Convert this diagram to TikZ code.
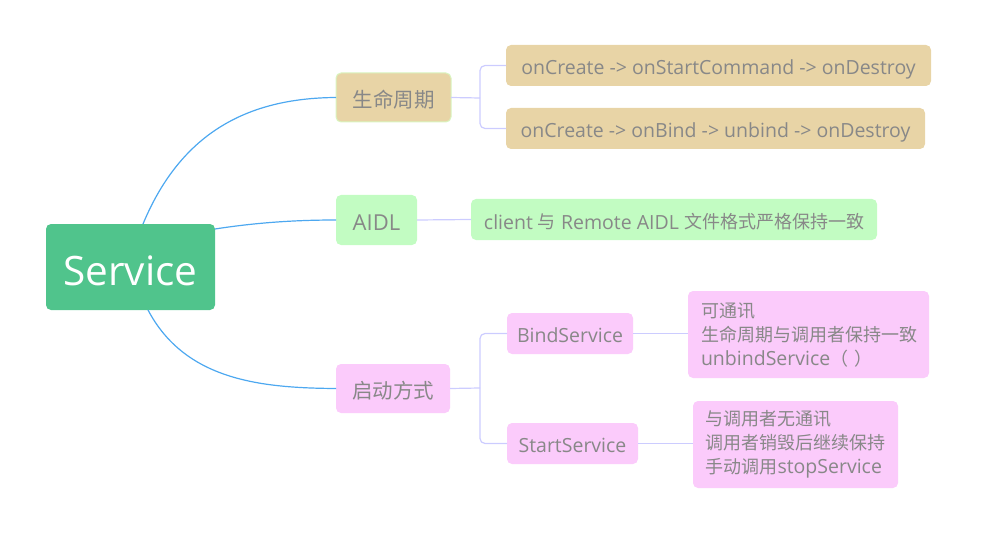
\documentclass[tikz,border=0pt]{standalone}
\usepackage{fontspec}
\setmainfont{Open Sans}
\newfontfamily\cjk{Noto Sans CJK SC}
\newcommand\zh[1]{{\cjk\fontsize{18}{24}\selectfont #1}}
\newcommand\bl[2]{\raisebox{-#1pt}[0pt][0pt]{#2}}
\begin{document}
\begin{tikzpicture}[x=1pt,y=-1pt,
  every node/.style={inner sep=0pt,outer sep=0pt,font=\fontsize{19.5}{24}\selectfont,text=txtgray},
  box/.style={rounded corners=5pt,anchor=north west,align=left},
  tanbox/.style={box,fill=tanc},
  grnbox/.style={box,fill=lgreen},
  pnkbox/.style={box,fill=pinkc},
  main/.style={draw=blueline,line width=1.2pt},
  sub/.style={draw=lav,line width=1.2pt,rounded corners=5pt}]
\definecolor{svcg}{RGB}{80,196,140}
\definecolor{tanc}{RGB}{232,212,166}
\definecolor{lgreen}{RGB}{194,252,194}
\definecolor{pinkc}{RGB}{251,203,251}
\definecolor{txtgray}{RGB}{136,136,136}
\definecolor{blueline}{RGB}{77,168,240}
\definecolor{lav}{RGB}{204,204,255}
\definecolor{lborder}{RGB}{217,245,192}
\useasboundingbox (0,0) rectangle (981,537);
% nodes
\node[box,fill=svcg,text=white,minimum width=169,minimum height=86,font=\fontsize{40.5}{44}\selectfont] (svc) at (46,224) {\bl{18}{Service}};
\node[tanbox,draw=lborder,line width=1pt,minimum width=115,minimum height=49,font=\fontsize{20.5}{24}\selectfont\cjk] (life) at (336,73) {\bl{10}{生命周期}};
\node[grnbox,minimum width=81,minimum height=50,font=\fontsize{22}{24}\selectfont] (aidl) at (336,195) {\bl{10.5}{AIDL}};
\node[pnkbox,minimum width=114,minimum height=49,font=\fontsize{20.5}{24}\selectfont\cjk] (start) at (336,364) {\bl{10}{启动方式}};
\node[tanbox,minimum width=425,minimum height=41] (l1) at (506,45) {\bl{9.5}{onCreate -> onStartCommand -> onDestroy}};
\node[tanbox,minimum width=419,minimum height=41] (l2) at (506,108) {\bl{9.5}{onCreate -> onBind -> unbind -> onDestroy}};
\node[grnbox,minimum width=406,minimum height=41] (cli) at (471,199) {\bl{9.5}{client \zh{与} Remote AIDL \zh{文件格式严格保持一致}}};
\node[pnkbox,minimum width=126,minimum height=41] (bind) at (507,313) {\bl{9}{BindService}};
\node[pnkbox,minimum width=131,minimum height=41] (ss) at (507,423) {\bl{9}{StartService}};
\node[pnkbox,minimum width=241,minimum height=87,text width=215] (bd) at (688,291) {\hspace*{0pt}\zh{可通讯}\\\zh{生命周期与调用者保持一致}\\unbindService\zh{（ ）}};
\node[pnkbox,minimum width=205,minimum height=87,text width=180] (sd) at (693,401) {\hspace*{0pt}\zh{与调用者无通讯}\\\zh{调用者销毁后继续保持}\\\zh{手动调用}stopService};
% main connectors
\draw[main] ([xshift=12.5]svc.north) .. controls (180,135) and (245,98) .. (life.west);
\draw[main] ([yshift=-5]svc.north east) .. controls (260,222) and (300,220) .. (aidl.west);
\draw[main] ([xshift=17.5]svc.south) .. controls (185,380) and (260,388) .. (start.west);
% sub connectors
\coordinate (j1) at (480,98);
\draw[sub] (life.east) -- (j1);
\draw[sub] (l1.west) -| (j1) |- (l2.west);
\draw[sub] (aidl.east) -- (cli.west);
\coordinate (j2) at (480,388);
\draw[sub] (start.east) -- (j2);
\draw[sub] (bind.west) -| (j2) |- (ss.west);
\draw[sub] (bind.east) -- (bd.west|-bind.east);
\draw[sub] (ss.east) -- (sd.west|-ss.east);
\end{tikzpicture}
\end{document}
